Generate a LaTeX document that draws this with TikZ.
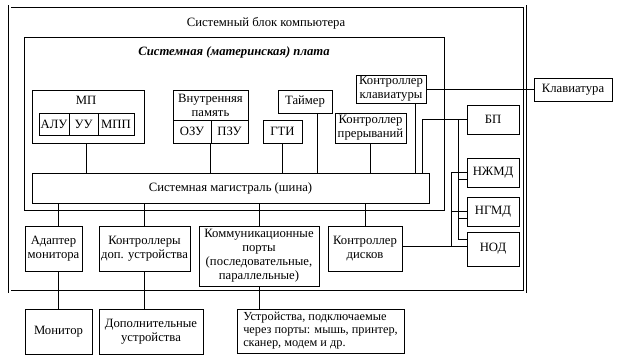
\documentclass[tikz,border=0pt]{standalone}
\usepackage{fontspec}
\setmainfont{Liberation Serif}
\newcommand\bx[6]{%
 \pgfmathsetmacro\bxw{#4-#2}\pgfmathsetmacro\bxh{#5-#3}%
 \pgfmathsetmacro\bxx{(#2+#4)/2}\pgfmathsetmacro\bxy{(#3+#5)/2}%
 \node[box, minimum width=\bxw pt, minimum height=\bxh pt] (#1) at (\bxx,\bxy) {#6};}
\begin{document}
\begin{tikzpicture}[x=1pt,y=-1pt, line width=0.8pt,
  box/.style={draw, inner sep=0pt, align=center, font=\fontsize{12.7}{14}\selectfont},
  lbl/.style={inner sep=0pt, align=center, font=\fontsize{12.7}{14}\selectfont},
  wire/.style={draw, line width=0.8pt}]
\useasboundingbox (0,0) rectangle (620,361);
% outer system block (double line)
\node[draw, double, double distance=2pt, line width=0.7pt, inner sep=0pt, minimum width=515.5pt, minimum height=285pt] (sys) at (267.25,149) {};
\node[lbl] (systitle) at (266,23) {Системный блок компьютера};
% motherboard
\bx{mb}{24}{37}{444}{210}{}
\node[lbl] (mbtitle) at (234,52) {\bfseries\itshape Системная (материнская) плата};
% bus
\bx{bus}{32}{173}{429}{203}{Системная магистраль (шина)}
% processor
\bx{mp}{32}{90}{144}{143}{}
\node[lbl] (mptitle) at (86,100) {МП};
\bx{alu}{39}{113}{69}{135}{АЛУ}
\bx{uu}{69}{113}{98}{135}{УУ}
\bx{mpp}{98}{113}{134}{135}{МПП}
% memory
\bx{mem}{173}{90}{248}{143}{}
\node[lbl] (memtitle) at (210.5,105) {Внутренняя\\память};
\bx{ozu}{173}{120}{211}{143}{ОЗУ}
\bx{pzu}{211}{120}{248}{143}{ПЗУ}
% others on board
\bx{gti}{263}{120}{302}{143}{ГТИ}
\bx{tmr}{278}{90}{332}{113}{Таймер}
\bx{irq}{335}{113}{406}{143}{Контроллер\\прерываний}
\bx{kbc}{356}{75}{426}{103}{Контроллер\\клавиатуры}
\bx{kbd}{534}{78}{612}{101}{Клавиатура}
% drives and power
\bx{psu}{467}{105}{519}{134}{БП}
\bx{hdd}{467}{158}{519}{187}{НЖМД}
\bx{fdd}{467}{197}{519}{226}{НГМД}
\bx{cd}{467}{232}{519}{266}{НОД}
% lower row
\bx{vga}{25}{226}{82}{271}{Адаптер\\монитора}
\bx{ext}{99}{226}{190}{271}{Контроллеры\\доп. устройства}
\bx{com}{199}{226}{319}{286}{Коммуникационные\\порты\\(последовательные,\\параллельные)}
\bx{dc}{328}{226}{402}{271}{Контроллер\\дисков}
\bx{mon}{25}{309}{92}{354}{Монитор}
\bx{extdev}{99}{309}{203}{354}{Дополнительные\\устройства}
\node[box, align=left, minimum width=167pt, minimum height=44pt, font=\fontsize{12.3}{13}\selectfont] (portdev) at (320.5,331) {Устройства, подключаемые\\через порты: мышь, принтер,\\сканер, модем и др.};
% connectors to bus (top)
\draw[wire] ([xshift=-2pt]mp.south) -- ([xshift=-2pt]mp.south |- bus.north);
\draw[wire] (pzu.south west) -- (pzu.south west |- bus.north);
\draw[wire] (gti.south) -- (gti.south |- bus.north);
\draw[wire] ([xshift=12pt]tmr.south) -- ([xshift=12pt]tmr.south |- bus.north);
\draw[wire] (irq.south) -- (irq.south |- bus.north);
\draw[wire] ([xshift=24pt]kbc.south) -- ([xshift=24pt]kbc.south |- bus.north);
\draw[wire] (kbc.east) -- (kbc.east -| kbd.west);
% power from bus
\draw[wire] ([xshift=-7pt]bus.north east) |- (psu.west);
\coordinate (pw) at ([xshift=-8pt]psu.west);
\draw[wire] (pw) |- ([yshift=-8pt]cd.north west);
\draw[wire] ([yshift=8pt]hdd.south west) -- ++(-8,0);
\draw[wire] ([yshift=8pt]fdd.south west) -- ++(-8,0);
% data from disk controller
\coordinate (dj) at ([yshift=-15pt]cd.north west);
\draw[wire] (dc.east |- dj) -- (dj);
\draw[wire] ([xshift=-15pt]dj) |- (hdd.west);
\draw[wire] ([xshift=-15pt]fdd.west) -- (fdd.west);
% connectors below bus
\draw[wire] ([xshift=4.5pt]vga.north) -- ([xshift=4.5pt]vga.north |- bus.south);
\draw[wire] ([xshift=4.5pt]vga.south) -- ([xshift=4.5pt]vga.south |- mon.north);
\draw[wire] (ext.north) -- (ext.north |- bus.south);
\draw[wire] (ext.south) -- (ext.south |- extdev.north);
\draw[wire] (com.north) -- (com.north |- bus.south);
\draw[wire] (com.south) -- (com.south |- portdev.north);
\draw[wire] (dc.north) -- (dc.north |- bus.south);
\end{tikzpicture}
\end{document}
